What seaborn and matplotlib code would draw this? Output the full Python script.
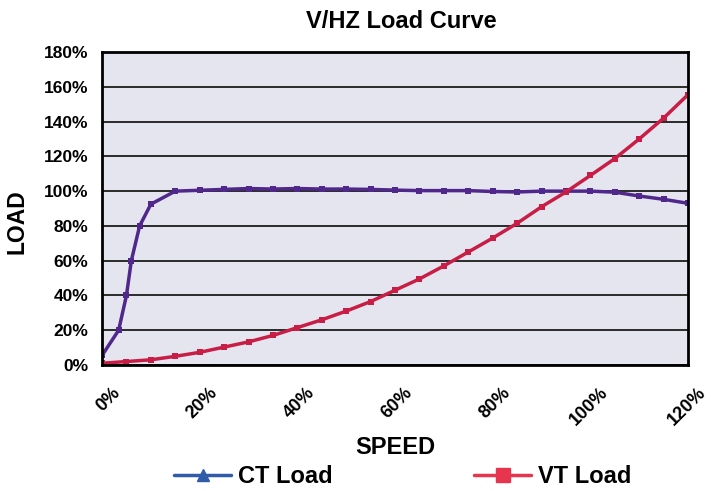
import matplotlib
matplotlib.use('Agg')
import matplotlib.pyplot as plt
import matplotlib.transforms as mtransforms
from matplotlib.lines import Line2D
from matplotlib.ticker import MultipleLocator, FuncFormatter
import pandas as pd
import seaborn as sns

# dados (velocidade % x carga %)
ct_speed = [0, 3.4, 5, 6, 7.7, 10, 15, 20, 25, 30, 35, 40, 45, 50, 55, 60,
            65, 70, 75, 80, 85, 90, 95, 100, 105, 110, 115, 120]
ct_load = [5.5, 20, 40, 60, 80, 92.5, 100, 100.5, 101, 101.5, 101.2, 101.5,
           101.2, 101.2, 101, 100.6, 100.3, 100.3, 100.3, 99.8, 99.5, 100,
           100, 100, 99.4, 97.2, 95.3, 93]

vt_speed = [0, 5, 10, 15, 20, 25, 30, 35, 40, 45, 50, 55, 60, 65, 70, 75,
            80, 85, 90, 95, 100, 105, 110, 115, 120]
vt_load = [1, 2, 3, 5, 7.3, 10.3, 13.3, 17, 21.5, 26, 31, 36.5, 43, 49.5,
           57, 65, 73, 81.5, 91, 99.5, 109, 118.7, 130, 142, 155.5]

x_ticks = [0, 20, 40, 60, 80, 100, 120]
y_ticks = [0, 20, 40, 60, 80, 100, 120, 140, 160, 180]
series_names = ['CT Load', 'VT Load']

df_ct = pd.DataFrame({'speed': ct_speed, 'load': ct_load})
df_vt = pd.DataFrame({'speed': vt_speed, 'load': vt_load})

sns.set_style('white')
plt.rcParams['font.family'] = ['Liberation Sans', 'DejaVu Sans']
plt.rcParams['font.weight'] = 'bold'
plt.rcParams['text.color'] = 'black'
plt.rcParams['axes.labelcolor'] = 'black'
plt.rcParams['xtick.color'] = 'black'
plt.rcParams['ytick.color'] = 'black'

fig = plt.figure(figsize=(7.12, 4.91), dpi=100)
ax = fig.add_axes([0.1433, 0.2566, 0.8230, 0.6374])
ax.set_facecolor('#e5e5f0')

sns.lineplot(data=df_ct, x='speed', y='load', ax=ax, color='#50288c',
             linewidth=2.5, marker='s', markersize=5, markeredgewidth=0,
             sort=False)
sns.lineplot(data=df_vt, x='speed', y='load', ax=ax, color='#c81e46',
             linewidth=2.5, marker='s', markersize=5, markeredgewidth=0,
             sort=False)

ax.set_xlim(0, 120)
ax.set_ylim(0, 180)
ax.set_yticks(y_ticks)
ax.set_xticks(x_ticks)
ax.xaxis.set_minor_locator(MultipleLocator(5))
pct = FuncFormatter(lambda v, p: f'{v:.0f}%')
ax.yaxis.set_major_formatter(pct)
ax.xaxis.set_major_formatter(pct)

ax.grid(axis='y', color='#2a2a2a', linewidth=1.4)
ax.set_axisbelow(True)
for s in ax.spines.values():
    s.set_color('black')
    s.set_linewidth(2)

ax.tick_params(axis='y', length=0, pad=10, labelsize=12.5, labelcolor='black')
ax.tick_params(axis='x', which='both', direction='out', length=4, width=1.5,
               color='black', labelsize=13, pad=14, labelcolor='black')

# rótulos inclinados, ancorados pela ponta direita
offset = mtransforms.ScaledTranslation(11 / 72, 0, fig.dpi_scale_trans)
for lbl in ax.get_xticklabels():
    lbl.set_rotation(45)
    lbl.set_ha('right')
    lbl.set_va('center')
    lbl.set_rotation_mode('anchor')
    lbl.set_transform(lbl.get_transform() + offset)

ax.set_title('V/HZ Load Curve', fontsize=17, fontweight='bold', pad=17, x=0.51,
             color='black')
ax.set_xlabel('SPEED', fontsize=17, fontweight='bold')
ax.xaxis.set_label_coords(0.5, -0.227)
ax.xaxis.label.set_va('top')
ax.set_ylabel('LOAD', fontsize=16.5, fontweight='bold')
ax.yaxis.set_label_coords(-0.126, 0.457)

handles = [
    Line2D([], [], color='#2f5ba8', linewidth=2.5, marker='^', markersize=9),
    Line2D([], [], color='#e8354f', linewidth=2.5, marker='s', markersize=10),
]
fig.legend(handles, series_names, loc='center', bbox_to_anchor=(0.566, 0.03),
           ncol=2, frameon=False, prop={'size': 17, 'weight': 'bold'},
           handlelength=2.4, handletextpad=0.3, columnspacing=6.0)

fig.savefig('out.png', dpi=100)
